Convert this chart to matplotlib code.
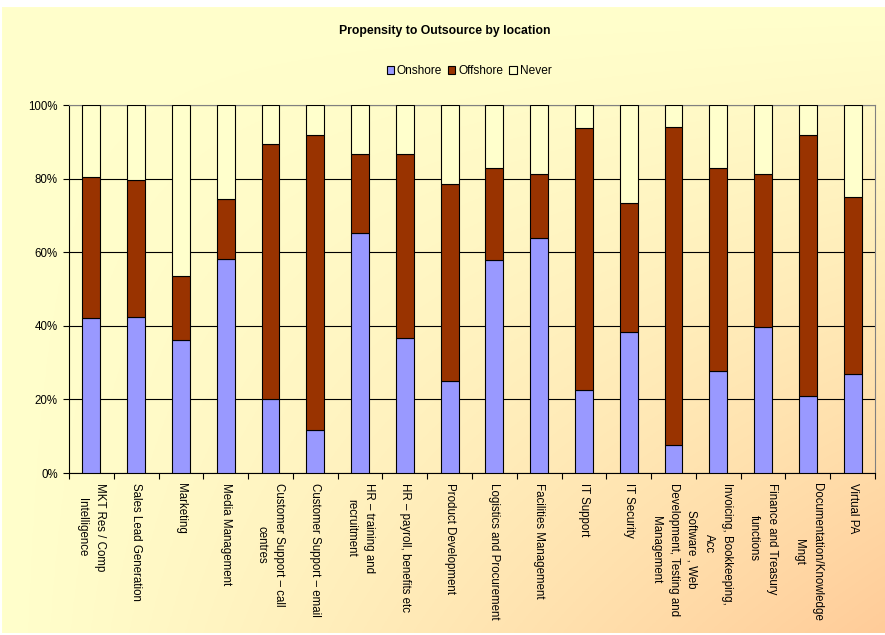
import numpy as np
import matplotlib
matplotlib.use("Agg")
import matplotlib.pyplot as plt
from matplotlib.ticker import FixedLocator

plt.rcParams['font.family'] = ['Liberation Sans', 'DejaVu Sans']

categories = [
    "MKT Res / Comp\nIntelligence",
    "Sales Lead Generation",
    "Marketing",
    "Media Management",
    "Customer Support \u2013 call\ncentres",
    "Customer Support \u2013 email",
    "HR \u2013 training and\nrecruitment",
    "HR \u2013 payroll, benefits etc",
    "Product Development",
    "Logistics and Procurement",
    "Facilities Management",
    "IT Support",
    "IT Security",
    "Software , Web\nDevelopment, Testing and\nManagement",
    "Invoicing, Bookkeeping,\nAcc",
    "Finance and Treasury\nfunctions",
    "Documentation/Knowledge\nMngt",
    "Virtual PA",
]

# percentages
onshore = [42.0, 42.3, 36.1, 58.2, 20.1, 11.7, 65.1, 36.8, 25.0,
           57.8, 63.8, 22.6, 38.4, 7.6, 27.7, 39.6, 21.0, 26.8]
offshore = [38.5, 37.3, 17.4, 16.3, 69.2, 80.1, 21.5, 49.8, 53.4,
            25.2, 17.4, 71.1, 34.9, 86.3, 55.3, 41.6, 70.8, 48.3]
never = [100 - a - b for a, b in zip(onshore, offshore)]

series_names = ["Onshore", "Offshore", "Never"]
series_colors = ["#9999FF", "#993300", "#FFFFCC"]

W, H = 885, 635
fig = plt.figure(figsize=(W / 100, H / 100), dpi=100, facecolor="white")

# gradient background (pale yellow -> peach at bottom right corner)
bg = fig.add_axes([2 / W, 2 / H, 1 - 2 / W, 1 - 9 / H], zorder=0)
gx = np.linspace(0, 1, 300)
gy = np.linspace(0, 1, 300)
GX, GY = np.meshgrid(gx, gy)
t = (GX * GY) ** 1.1
c0 = np.array([255, 255, 204]) / 255
c1 = np.array([255, 204, 153]) / 255
img = c0[None, None, :] * (1 - t[..., None]) + c1[None, None, :] * t[..., None]
bg.imshow(img, origin="upper", aspect="auto", extent=[0, 1, 1, 0])
bg.axis("off")

ax = fig.add_axes([69 / W, 1 - 473 / H, (875 - 69) / W, (473 - 105) / H], zorder=1)
ax.patch.set_alpha(0)

x = np.arange(len(categories))
bottom = np.zeros(len(categories))
for name, vals, col in zip(series_names, [onshore, offshore, never], series_colors):
    ax.bar(x, vals, width=0.4, bottom=bottom, color=col, edgecolor="black",
           linewidth=0.8, label=name, zorder=3)
    bottom = bottom + np.array(vals)

ax.set_xlim(-0.5, len(categories) - 0.5)
ax.set_ylim(0, 100)
ax.set_yticks([0, 20, 40, 60, 80, 100])
ax.set_yticklabels(["0%", "20%", "40%", "60%", "80%", "100%"], fontsize=8.3)
ax.yaxis.grid(True, color="black", linewidth=0.8)
ax.set_axisbelow(True)

ax.set_xticks(x)
ax.set_xticklabels(categories, rotation=-90, fontsize=8.3, ha="center", va="top",
                   multialignment="center", linespacing=1.65)
ax.xaxis.set_minor_locator(FixedLocator(np.arange(-0.5, len(categories), 1.0)))
ax.tick_params(axis="x", which="major", length=0, pad=7)
ax.tick_params(axis="x", which="minor", length=4, width=0.8, direction="out")
ax.tick_params(axis="y", length=4, width=0.8, pad=4)

for s in ["left", "bottom"]:
    ax.spines[s].set_color("black")
    ax.spines[s].set_linewidth(0.8)
for s in ["top", "right"]:
    ax.spines[s].set_color("#808080")
    ax.spines[s].set_linewidth(0.8)

fig.text(0.502, 1 - 31 / H, "Propensity to Outsource by location", ha="center",
         va="center", fontsize=8.8, fontweight="bold")

leg = fig.legend(loc="center", bbox_to_anchor=(469 / W, 1 - 71 / H), ncol=3,
                 frameon=False, fontsize=8.6, handlelength=0.6, handleheight=0.6,
                 handletextpad=0.25, columnspacing=0.5, borderpad=0)

fig.savefig("out.png", dpi=100, facecolor=fig.get_facecolor())
